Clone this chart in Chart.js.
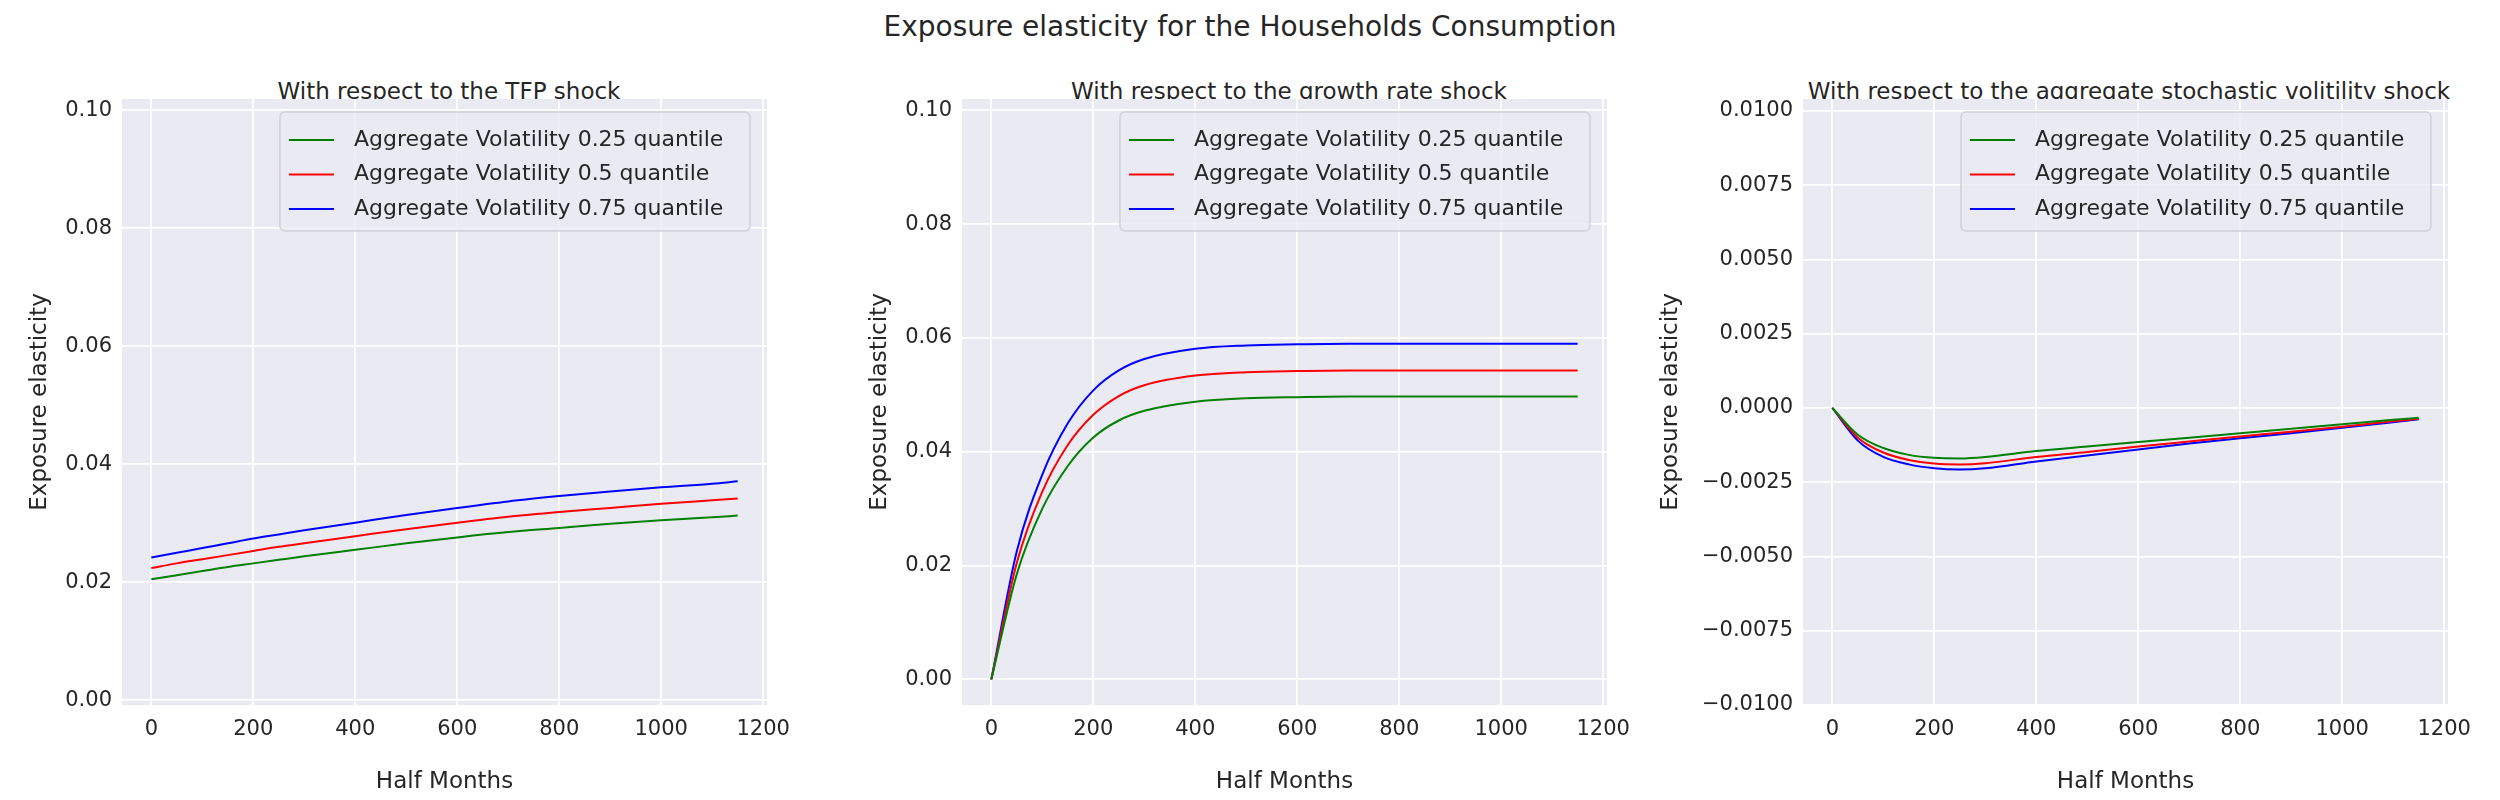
<!DOCTYPE html>
<html><head><meta charset="utf-8">
<script src="https://cdn.jsdelivr.net/npm/chart.js@4/dist/chart.umd.min.js"></script>
<style>
body{margin:0;background:#fff;width:2500px;height:800px;position:relative;overflow:hidden;font-family:"DejaVu Sans";color:#262626}
.t{position:absolute;white-space:nowrap;transform:translateX(-50%)}
.c{position:absolute;top:0;height:800px}
</style></head><body>
<div class="t" style="left:1250px;top:10px;font-size:28px">Exposure elasticity for the Households Consumption</div>
<div class="t" style="left:449px;top:78px;font-size:23px">With respect to the TFP shock</div>
<div class="t" style="left:1289px;top:78px;font-size:23px">With respect to the growth rate shock</div>
<div class="t" style="left:2129px;top:78px;font-size:23px">With respect to the aggregate stochastic volitility shock</div>
<div class="c" style="left:22px;width:780px"><canvas id="c1"></canvas></div>
<div class="c" style="left:862px;width:780px"><canvas id="c2"></canvas></div>
<div class="c" style="left:1653px;width:830px"><canvas id="c3"></canvas></div>
<script>
const halfMonths=[0,50,100,150,200,250,300,400,500,600,700,800,900,1000,1100,1150];
const seriesNames=["Aggregate Volatility 0.25 quantile","Aggregate Volatility 0.5 quantile","Aggregate Volatility 0.75 quantile"];
const seriesColors=["green","red","blue"];
const tfpGreen=[0.0205,0.0212,0.0219,0.0226,0.0232,0.0238,0.0244,0.0255,0.0266,0.0276,0.0285,0.0292,0.0299,0.0305,0.0310,0.0313];
const tfpRed=[0.0224,0.0232,0.0239,0.0246,0.0253,0.0260,0.0266,0.0278,0.0290,0.0301,0.0311,0.0319,0.0326,0.0333,0.0339,0.0342];
const tfpBlue=[0.0242,0.0250,0.0258,0.0266,0.0274,0.0281,0.0288,0.0301,0.0314,0.0326,0.0337,0.0346,0.0354,0.0361,0.0367,0.0371];
const grGreen=[0,0.0185,0.0300,0.0375,0.0425,0.0455,0.0472,0.0488,0.0494,0.0496,0.0497,0.0497,0.0497,0.0497,0.0497,0.0497];
const grRed=[0,0.0205,0.0330,0.0412,0.0465,0.0498,0.0517,0.0534,0.0540,0.0542,0.0543,0.0543,0.0543,0.0543,0.0543,0.0543];
const grBlue=[0,0.0225,0.0360,0.0450,0.0508,0.0543,0.0563,0.0581,0.0587,0.0589,0.0590,0.0590,0.0590,0.0590,0.0590,0.0590];
const svGreen=[0,-0.0009,-0.00135,-0.00158,-0.00168,-0.0017,-0.00165,-0.00145,-0.0013,-0.00115,-0.001,-0.00085,-0.0007,-0.00055,-0.0004,-0.00033];
const svRed=[0,-0.001,-0.0015,-0.00175,-0.00187,-0.0019,-0.00186,-0.00165,-0.00148,-0.0013,-0.00113,-0.00096,-0.0008,-0.00063,-0.00045,-0.00036];
const svBlue=[0,-0.0011,-0.00165,-0.0019,-0.00203,-0.00207,-0.00203,-0.0018,-0.0016,-0.0014,-0.0012,-0.00102,-0.00085,-0.00067,-0.00048,-0.00038];
const xTicks=[0,200,400,600,800,1000,1200];
const yTicksA=[0,0.02,0.04,0.06,0.08,0.10];
const yTicksB=[-0.01,-0.0075,-0.005,-0.0025,0,0.0025,0.005,0.0075,0.01];

const legendPlugin={id:'mplLegend',afterDatasetsDraw(ch){
  const a=ch.chartArea,ctx=ch.ctx;const w=470,h=119;const x=a.right-17-w,y=a.top+13;
  ctx.save();ctx.fillStyle='rgba(234,234,242,0.8)';ctx.strokeStyle='#d0d0d8';ctx.lineWidth=1.5;
  ctx.beginPath();ctx.roundRect(x,y,w,h,5);ctx.fill();ctx.stroke();
  ctx.font='22px "DejaVu Sans"';ctx.textBaseline='middle';
  ch.data.datasets.forEach((d,i)=>{const yy=y+28+i*34.5;ctx.strokeStyle=d.borderColor;ctx.lineWidth=2;
    ctx.beginPath();ctx.moveTo(x+9,yy);ctx.lineTo(x+54,yy);ctx.stroke();ctx.fillStyle='#262626';ctx.fillText(d.label,x+74,yy);});
  ctx.restore();}};

function make(id,data,ymin,ymax,yt,dec,yw){
  new Chart(document.getElementById(id),{type:'line',
    data:{datasets:data.map((v,i)=>({label:seriesNames[i],data:halfMonths.map((x,j)=>({x,y:v[j]})),borderColor:seriesColors[i],borderWidth:2,pointRadius:0,cubicInterpolationMode:'monotone',fill:false}))},
    options:{responsive:false,animation:false,devicePixelRatio:1,
      layout:{padding:{top:99,right:24,left:0,bottom:0}},
      plugins:{legend:{display:false},tooltip:{enabled:false}},
      scales:{
        x:{type:'linear',min:-57.5,max:1207.5,afterBuildTicks:s=>{s.ticks=xTicks.map(v=>({value:v}))},
          afterFit:s=>{s.height=95},
          grid:{color:'#ffffff',lineWidth:1.8,drawTicks:false},border:{display:false},
          ticks:{padding:12,color:'#262626',font:{size:21,family:'DejaVu Sans'},maxRotation:0,callback:v=>String(v)},
          title:{display:true,text:'Half Months',color:'#262626',font:{size:23,family:'DejaVu Sans'},padding:{top:2}}},
        y:{min:ymin,max:ymax,afterBuildTicks:s=>{s.ticks=yt.map(v=>({value:v}))},
          afterFit:s=>{s.width=yw},
          grid:{color:'#ffffff',lineWidth:1.8,drawTicks:false},border:{display:false},
          ticks:{padding:10,color:'#262626',font:{size:21,family:'DejaVu Sans'},callback:v=>v.toFixed(dec).replace('-','\u2212')},
          title:{display:true,text:'Exposure elasticity',color:'#262626',font:{size:23,family:'DejaVu Sans'},padding:{bottom:4}}}}},
    plugins:[{id:'bg',beforeDraw(ch){const a=ch.chartArea;ch.ctx.save();ch.ctx.fillStyle='#eaeaf2';ch.ctx.fillRect(a.left,a.top,a.right-a.left,a.bottom-a.top);ch.ctx.restore();}},legendPlugin]});
}
for(const [id,w] of [['c1',780],['c2',780],['c3',830]]){const c=document.getElementById(id);c.width=w;c.height=800;}
make('c1',[tfpGreen,tfpRed,tfpBlue],-0.0008,0.1019,yTicksA,2,100);
make('c2',[grGreen,grRed,grBlue],-0.0045,0.102,yTicksA,2,100);
make('c3',[svGreen,svRed,svBlue],-0.0100,0.0104,yTicksB,4,150);
</script></body></html>
